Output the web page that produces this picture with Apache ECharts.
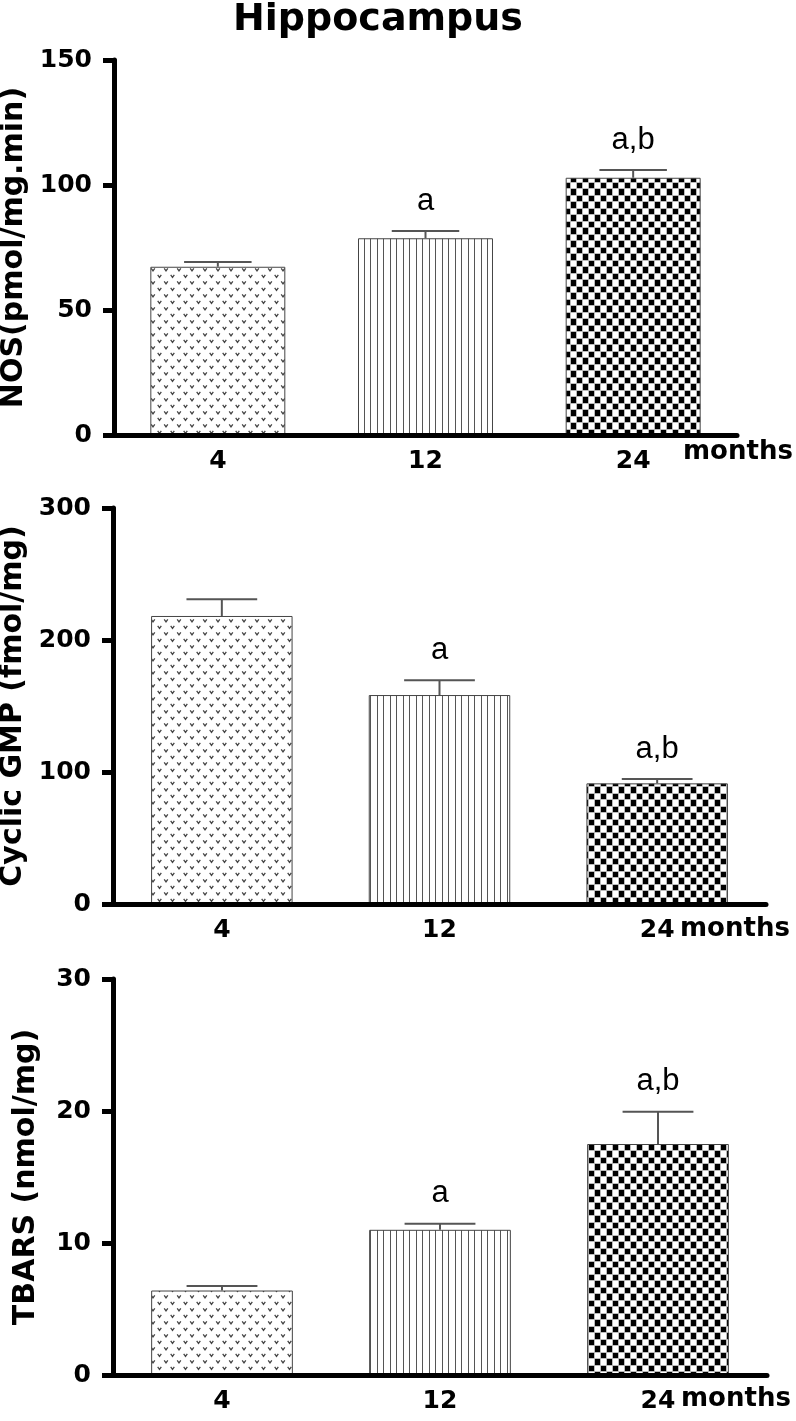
<!DOCTYPE html>
<html>
<head>
<meta charset="utf-8">
<script src="https://cdn.jsdelivr.net/npm/echarts@6/dist/echarts.min.js"></script>
<style>
html,body{margin:0;padding:0;background:#fff;}
#chart{width:796px;height:1421px;}
</style>
</head>
<body>
<div id="chart"></div>
<script>
// ---- data ----
const categories = ['4', '12', '24'];
const nosMean = [67.3, 78.7, 102.9];
const nosErr = [1.9, 2.9, 3.1];
const cgmpMean = [218.2, 158.3, 91.4];
const cgmpErr = [12.6, 11.2, 3.3];
const tbarsMean = [6.4, 11.0, 17.5];
const tbarsErr = [0.35, 0.45, 2.45];
const sigLabels = ['', 'a', 'a,b'];
const yNames = ['NOS(pmol/mg.min)', 'Cyclic GMP (fmol/mg)', 'TBARS (nmol/mg)'];
const yMax = [150, 300, 30];
const yStep = [50, 100, 10];

// ---- fill patterns ----
function vPattern() {
  const c = document.createElement('canvas'); c.width = 13; c.height = 13;
  const g = c.getContext('2d');
  g.fillStyle = '#fff'; g.fillRect(0, 0, 13, 13);
  g.strokeStyle = '#444'; g.lineWidth = 1.3;
  [[3.5, 3], [10, 9.5]].forEach(([x, y]) => {
    g.beginPath(); g.moveTo(x - 1.8, y - 1.2); g.lineTo(x, y + 1.3); g.lineTo(x + 1.8, y - 1.2); g.stroke();
  });
  return c;
}
function linePattern() {
  const c = document.createElement('canvas'); c.width = 13; c.height = 4;
  const g = c.getContext('2d');
  g.fillStyle = '#fff'; g.fillRect(0, 0, 13, 4);
  g.fillStyle = '#555'; g.fillRect(0, 0, 1, 4); g.fillRect(6, 0, 1, 4);
  return c;
}
function checkPattern() {
  const c = document.createElement('canvas'); c.width = 12; c.height = 13;
  const g = c.getContext('2d');
  g.fillStyle = '#fff'; g.fillRect(0, 0, 12, 13);
  g.fillStyle = '#bbb';
  g.fillRect(0, 0, 12, 1); g.fillRect(0, 6, 12, 1); g.fillRect(0, 0, 1, 13); g.fillRect(6, 0, 1, 13);
  g.fillStyle = '#000';
  g.fillRect(1, 1, 5, 5); g.fillRect(7, 7, 5, 6);
  return c;
}
const patterns = [vPattern(), linePattern(), checkPattern()].map(img => ({ image: img, repeat: 'repeat' }));

const boldFont = 'DejaVu Sans';
const grids = [
  { left: 114, right: 59, top: 60, height: 375 },
  { left: 113, right: 30, top: 508, height: 396 },
  { left: 113, right: 29, top: 979, height: 396 }
].map(g => Object.assign(g, { containLabel: false, outerBoundsMode: 'none' }));
const monthsGap = [-54, -86, -86];
const monthsPad = [4, 12, 11];
const means = [nosMean, cgmpMean, tbarsMean];
const errs = [nosErr, cgmpErr, tbarsErr];

function errRender(params, api) {
  const i = api.value(0), m = api.value(1), e = api.value(2);
  const base = api.coord([i, m]);
  const top = api.coord([i, m + e]);
  const band = api.size([1, 0])[0];
  const half = band * 0.65 / 4;
  const children = [
    { type: 'line', shape: { x1: base[0], y1: base[1], x2: top[0], y2: top[1] }, style: { stroke: '#555', lineWidth: 2 } },
    { type: 'line', shape: { x1: top[0] - half, y1: top[1], x2: top[0] + half, y2: top[1] }, style: { stroke: '#555', lineWidth: 2 } }
  ];
  const t = sigLabels[params.dataIndex];
  if (t) {
    children.push({ type: 'text', x: top[0], y: top[1] - 30,
      style: { text: t, font: '31px "Liberation Sans", Arial, sans-serif', fill: '#000', align: 'center', verticalAlign: 'middle' } });
  }
  return { type: 'group', children };
}

const xAxis = [], yAxis = [], series = [];
for (let k = 0; k < 3; k++) {
  xAxis.push({
    type: 'category', gridIndex: k, data: categories, z: 10,
    axisLine: { lineStyle: { color: '#000', width: 5 } },
    axisTick: { show: false },
    axisLabel: { color: '#000', fontFamily: boldFont, fontWeight: 'bold', fontSize: 25, margin: 14 },
    name: 'months', nameLocation: 'end', nameGap: monthsGap[k],
    nameTextStyle: { color: '#000', fontFamily: boldFont, fontWeight: 'bold', fontSize: 26, align: 'left', verticalAlign: 'top', padding: [monthsPad[k], 0, 0, 0] }
  });
  yAxis.push({
    type: 'value', gridIndex: k, min: 0, max: yMax[k], interval: yStep[k], z: 10,
    splitLine: { show: false },
    axisLine: { show: true, lineStyle: { color: '#000', width: 5 } },
    axisTick: { show: true, length: 11, lineStyle: { color: '#000', width: 5 } },
    axisLabel: { color: '#000', fontFamily: boldFont, fontWeight: 'bold', fontSize: 25, margin: 22 },
    name: yNames[k], nameLocation: 'middle', nameGap: 72,
    nameTextStyle: { color: '#000', fontFamily: boldFont, fontWeight: 'bold', fontSize: 30 }
  });
  series.push({
    type: 'bar', xAxisIndex: k, yAxisIndex: k, barWidth: '65%', silent: true,
    data: means[k].map((v, i) => ({ value: v, itemStyle: { color: patterns[i], borderColor: '#444', borderWidth: 1 } }))
  });
  series.push({
    type: 'custom', xAxisIndex: k, yAxisIndex: k, clip: false, silent: true, z: 5,
    renderItem: errRender,
    data: means[k].map((v, i) => [i, v, errs[k][i]])
  });
}

const chart = echarts.init(document.getElementById('chart'), null, { renderer: 'canvas' });
chart.setOption({
  animation: false,
  backgroundColor: '#fff',
  graphic: [{
    type: 'text', x: 378, y: 1,
    style: { text: 'Hippocampus', font: 'bold 38px "DejaVu Sans", sans-serif', fill: '#000', align: 'center', verticalAlign: 'top' }
  }],
  grid: grids,
  xAxis, yAxis, series
});
</script>
</body>
</html>
